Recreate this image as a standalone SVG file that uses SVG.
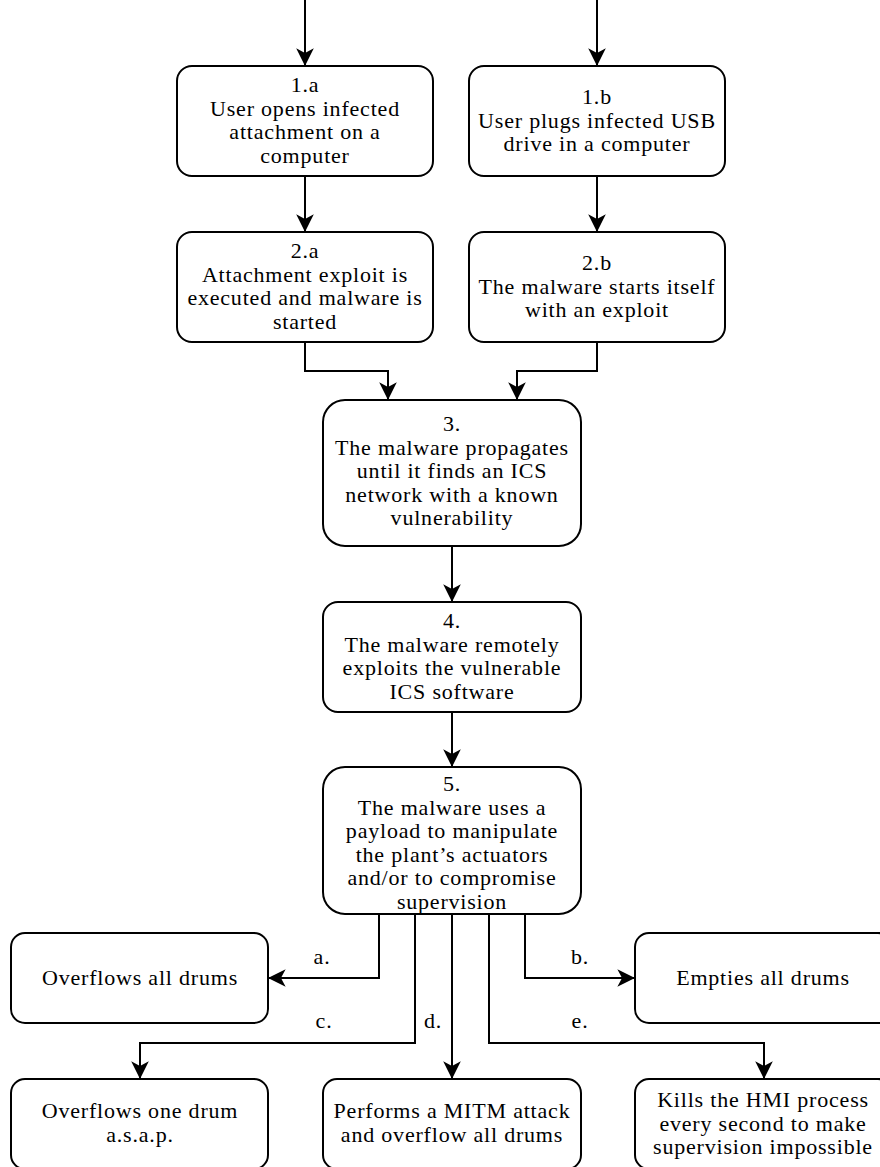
<svg xmlns="http://www.w3.org/2000/svg" width="880" height="1167" viewBox="0 0 880 1167">
  <style>
    .box { fill: #ffffff; stroke: #000000; stroke-width: 2; }
    .lbl { font-family: "Liberation Serif", "DejaVu Serif", serif; font-size: 22px; letter-spacing: 0.8px; fill: #000000; text-anchor: middle; }
    .edge { fill: none; stroke: #000000; stroke-width: 2; marker-end: url(#arrow); }
  </style>
  <defs>
    <marker id="arrow" markerUnits="userSpaceOnUse" markerWidth="20" markerHeight="20" viewBox="-16 -8 17 16" refX="0" refY="0" orient="auto">
      <path d="M0,0 L-15,-7.5 L-11,0 L-15,7.5 Z" fill="#000000"/>
    </marker>
  </defs>
  <rect width="880" height="1167" fill="#ffffff"/>

  <!-- connectors -->
  <g id="connectors">
    <path class="edge" d="M305,0 V66"/>
    <path class="edge" d="M597,0 V66"/>
    <path class="edge" d="M305,176 V232"/>
    <path class="edge" d="M597,176 V232"/>
    <path class="edge" d="M305,342 V371 H388 V400"/>
    <path class="edge" d="M597,342 V371 H517 V400"/>
    <path class="edge" d="M452,546 V602"/>
    <path class="edge" d="M452,712 V767"/>
    <path class="edge" d="M379,914 V978 H268"/>
    <path class="edge" d="M525,914 V978 H635"/>
    <path class="edge" d="M415,914 V1043 H140 V1079"/>
    <path class="edge" d="M452,914 V1079"/>
    <path class="edge" d="M489,914 V1043 H764 V1079"/>
    <text class="lbl" x="322" y="964">a.</text>
    <text class="lbl" x="580" y="964">b.</text>
    <text class="lbl" x="324" y="1028">c.</text>
    <text class="lbl" x="433" y="1028">d.</text>
    <text class="lbl" x="580" y="1028">e.</text>
  </g>

  <g id="n1a">
    <rect class="box" x="177" y="66" width="256" height="110" rx="15"/>
    <text class="lbl" x="305" y="92">1.a</text>
    <text class="lbl" x="305" y="115.5">User opens infected</text>
    <text class="lbl" x="305" y="139">attachment on a</text>
    <text class="lbl" x="305" y="162.5">computer</text>
  </g>
  <g id="n1b">
    <rect class="box" x="469" y="66" width="256" height="110" rx="15"/>
    <text class="lbl" x="597" y="104">1.b</text>
    <text class="lbl" x="597" y="127.5">User plugs infected USB</text>
    <text class="lbl" x="597" y="151">drive in a computer</text>
  </g>
  <g id="n2a">
    <rect class="box" x="177" y="232" width="256" height="110" rx="15"/>
    <text class="lbl" x="305" y="258">2.a</text>
    <text class="lbl" x="305" y="281.5">Attachment exploit is</text>
    <text class="lbl" x="305" y="305">executed and malware is</text>
    <text class="lbl" x="305" y="328.5">started</text>
  </g>
  <g id="n2b">
    <rect class="box" x="469" y="232" width="256" height="110" rx="15"/>
    <text class="lbl" x="597" y="270">2.b</text>
    <text class="lbl" x="597" y="293.5">The malware starts itself</text>
    <text class="lbl" x="597" y="317">with an exploit</text>
  </g>
  <g id="n3">
    <rect class="box" x="323" y="400" width="258" height="146" rx="22"/>
    <text class="lbl" x="452" y="431">3.</text>
    <text class="lbl" x="452" y="454.5">The malware propagates</text>
    <text class="lbl" x="452" y="478">until it finds an ICS</text>
    <text class="lbl" x="452" y="501.5">network with a known</text>
    <text class="lbl" x="452" y="525">vulnerability</text>
  </g>
  <g id="n4">
    <rect class="box" x="323" y="602" width="258" height="110" rx="15"/>
    <text class="lbl" x="452" y="628">4.</text>
    <text class="lbl" x="452" y="651.5">The malware remotely</text>
    <text class="lbl" x="452" y="675">exploits the vulnerable</text>
    <text class="lbl" x="452" y="698.5">ICS software</text>
  </g>
  <g id="n5">
    <rect class="box" x="323" y="767" width="258" height="147" rx="22"/>
    <text class="lbl" x="452" y="791">5.</text>
    <text class="lbl" x="452" y="814.5">The malware uses a</text>
    <text class="lbl" x="452" y="838">payload to manipulate</text>
    <text class="lbl" x="452" y="861.5">the plant’s actuators</text>
    <text class="lbl" x="452" y="885">and/or to compromise</text>
    <text class="lbl" x="452" y="908.5">supervision</text>
  </g>
  <g id="na">
    <rect class="box" x="11" y="933" width="257" height="90" rx="14"/>
    <text class="lbl" x="140" y="985">Overflows all drums</text>
  </g>
  <g id="nb">
    <rect class="box" x="635" y="933" width="257" height="90" rx="14"/>
    <text class="lbl" x="763" y="985">Empties all drums</text>
  </g>
  <g id="nc">
    <rect class="box" x="11" y="1079" width="257" height="90" rx="14"/>
    <text class="lbl" x="140" y="1118">Overflows one drum</text>
    <text class="lbl" x="140" y="1141.5">a.s.a.p.</text>
  </g>
  <g id="nd">
    <rect class="box" x="323" y="1079" width="258" height="90" rx="14"/>
    <text class="lbl" x="452" y="1118">Performs a MITM attack</text>
    <text class="lbl" x="452" y="1141.5">and overflow all drums</text>
  </g>
  <g id="ne">
    <rect class="box" x="635" y="1079" width="257" height="90" rx="14"/>
    <text class="lbl" x="763" y="1107">Kills the HMI process</text>
    <text class="lbl" x="763" y="1130.5">every second to make</text>
    <text class="lbl" x="763" y="1154">supervision impossible</text>
  </g>
</svg>
